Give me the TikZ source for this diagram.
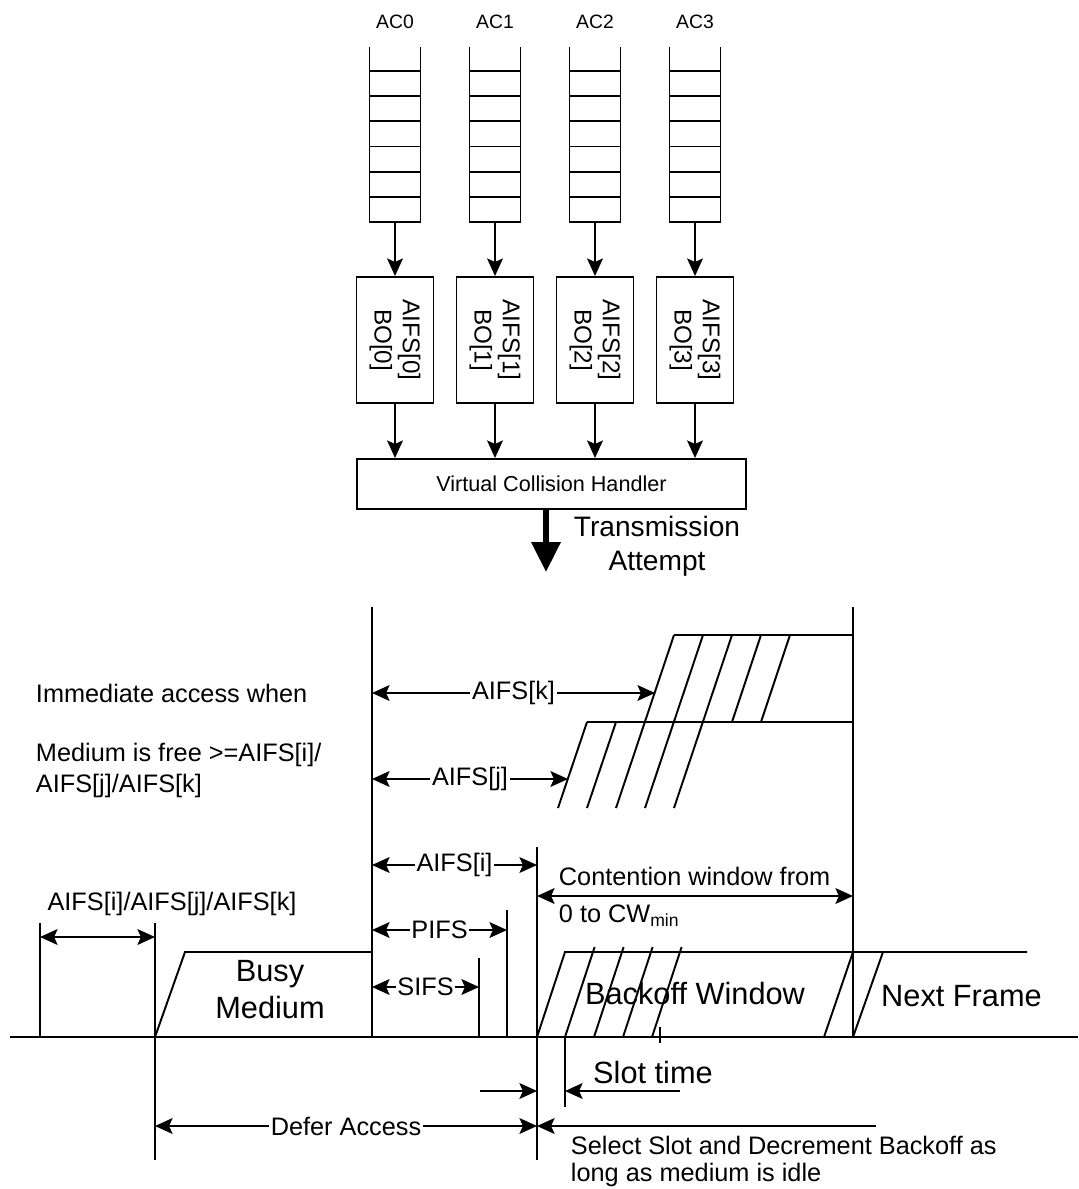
\documentclass[tikz,border=0pt]{standalone}
\usepackage{fontspec}
\setmainfont{Liberation Sans}
\usetikzlibrary{arrows.meta}

\newcommand\fsmall{\fontsize{11}{12}\selectfont}
\newcommand\frot{\fontsize{13.8}{16}\selectfont}
\newcommand\fvch{\fontsize{12.3}{14}\selectfont}
\newcommand\ftrans{\fontsize{16}{19.3}\selectfont}
\newcommand\fmid{\fontsize{14.4}{17.6}\selectfont}
\newcommand\fsel{\fontsize{14.4}{15.4}\selectfont}
\newcommand\fbig{\fontsize{17.5}{21}\selectfont}

\tikzset{
  qbox/.style={draw,minimum width=1.54cm,minimum height=2.52cm,inner sep=0pt},
  lbl/.style={fill=white,inner sep=1pt,font=\fmid},
  txt/.style={inner sep=0pt,font=\fmid}
}

\begin{document}
\begin{tikzpicture}[x=0.02cm,y=-0.02cm,line width=1.1pt,>={Stealth[length=10pt,width=9pt,inset=2pt]}]
\useasboundingbox (0,0) rectangle (1078,1189);

% queues and access categories
\node[draw,minimum width=7.78cm,minimum height=1cm,font=\fvch] (vch) at (551.5,484) {Virtual Collision Handler};
\foreach \i in {0,...,3}{
  \pgfmathsetmacro\cx{395+100*\i}
  \node[font=\fsmall] (ac\i) at (\cx,22) {AC\i};
  \draw (\cx-25.5,47)--(\cx-25.5,222)--(\cx+25.5,222)--(\cx+25.5,47);
  \foreach \k in {0,...,5} \draw (\cx-25.5,71+25.17*\k)--(\cx+25.5,71+25.17*\k);
  \coordinate (q\i) at (\cx,222);
  \node[qbox] (b\i) at (\cx,340) {};
  \node[rotate=-90,align=center,font=\frot] (t\i) at (b\i) {AIFS[\i]\\BO[\i]};
  \draw[->] (q\i)--(b\i.north);
  \draw[->] (b\i.south)--(b\i.south |- vch.north);
}
\coordinate (ta) at (546,572);
\draw[line width=3.4pt,-{Triangle[length=17pt,width=16pt]}] (vch.south -| ta)--(ta);
\node[font=\ftrans,align=center] (tx) at (657,546) {Transmission\\Attempt};

% time line
\draw[line width=1.5pt] (10,1037)--(1078,1037);
\draw (372,607)--(372,1037);
\draw (853,607)--(853,1037);
\draw (537,847)--(537,1160);
\draw (155,923)--(155,1160);
\draw (40,923)--(40,1037);
\draw (507,910)--(507,1037);
\draw (479,958)--(479,1037);
\draw (565,1037)--(565,1107);
\draw (660,1027)--(660,1043);

\draw (155,1037)--(185,952)--(372,952);
\node[font=\fbig,align=center] (busy) at (270,990) {Busy\\Medium};

\draw (537,1037)--(565,952)--(1027,952);
\foreach \x in {565,594,623,652} \draw (\x,1037)--(\x+29.6,947);
\draw (824,1037)--(853,952);
\draw (853,1037)--(883,952);
\node[font=\fbig] (bw) at (695,993) {Backoff Window};
\node[font=\fbig] (nf) at (961.5,996) {Next Frame};

% staggered AIFS
\draw (587,722)--(853,722);
\draw (674,635)--(853,635);
\draw (558,808)--(587,722);
\draw (587,808)--(616,722);
\foreach \x in {616,645,674} \draw (\x,808)--(\x+58,635);
\foreach \x in {732,761} \draw (\x,722)--(\x+29,635);

\node[txt,anchor=west] (imm) at (35,693) {Immediate access when};
\node[txt,anchor=west,align=left] (free) at (35,770) {Medium is free >=AIFS[i]/\\AIFS[j]/AIFS[k]};

\draw[<->] (372,693)--node[lbl] (lk) {AIFS[k]} (655,693);
\draw[<->] (372,779)--node[lbl] (lj) {AIFS[j]} (568,779);
\draw[<->] (372,865)--node[lbl] (li) {AIFS[i]} (537,865);
\draw[<->] (372,930)--node[lbl] (lp) {PIFS} (507,930);
\draw[<->] (372,987)--node[lbl] (ls) {SIFS} (479,987);

\node[font=\fmid] (lall) at (172,904) {AIFS[i]/AIFS[j]/AIFS[k]};
\draw[<->] (40,937)--(155,937);

\node[txt,anchor=west] (cw) at (558,876) {Contention window from};
\node[txt,anchor=west] (cwm) at (558,916) {0 to CW\textsubscript{min}};
\draw[<->] (537,896)--(853,896);

\draw[<->] (155,1126)--node[lbl] (da) {Defer Access} (537,1126);
\draw[->] (876,1126)--(537,1126);
\node[txt,anchor=west,align=left,font=\fsel] (sel) at (570,1161) {Select Slot and Decrement Backoff as\\long as medium is idle};

\draw[->] (480,1091)--(537,1091);
\draw[->] (680,1091)--(565,1091);
\node[font=\fbig] (st) at (653,1072) {Slot time};
\end{tikzpicture}
\end{document}
